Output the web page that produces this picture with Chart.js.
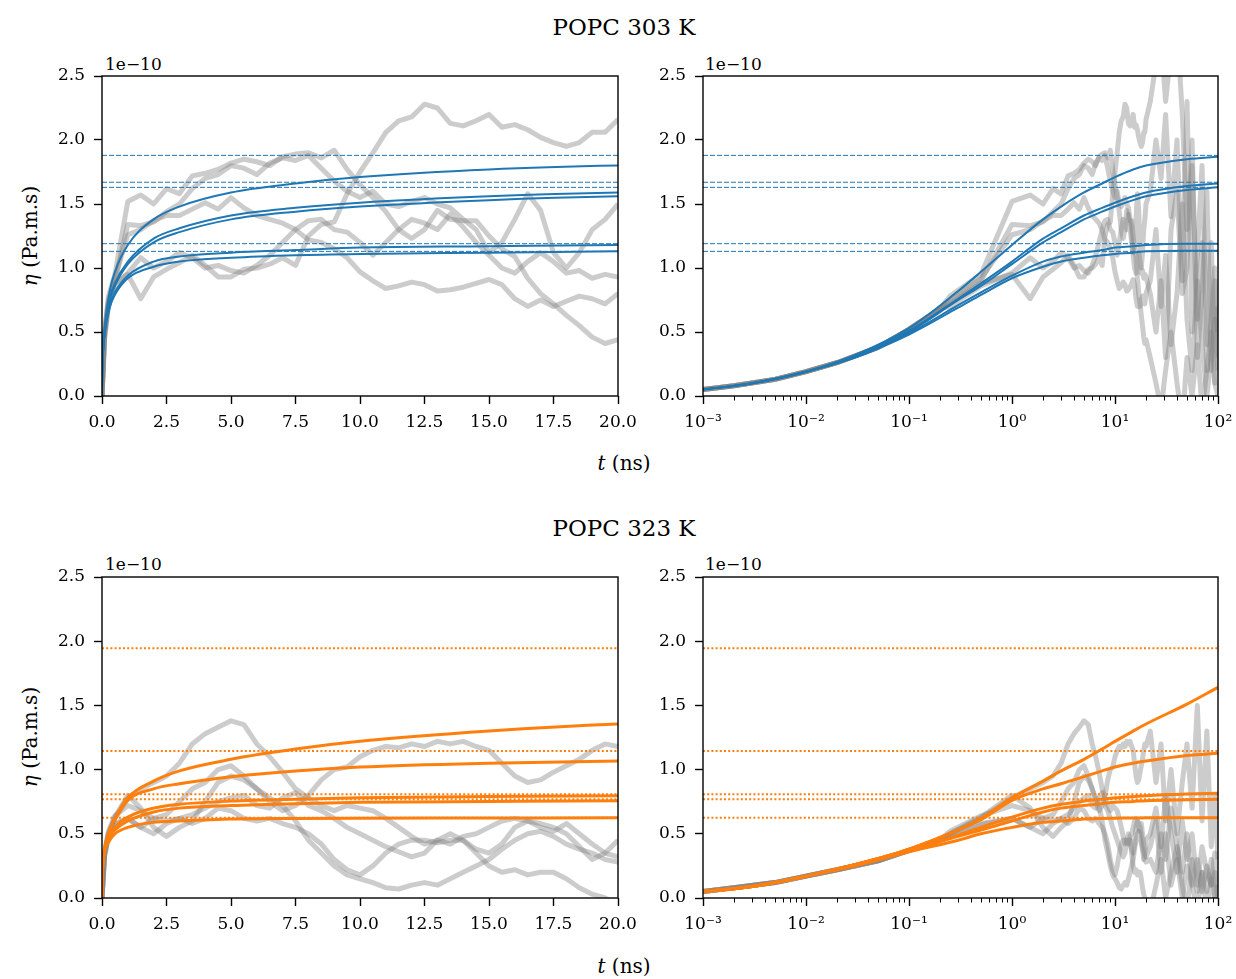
<!DOCTYPE html>
<html>
<head>
<meta charset="utf-8">
<script src="https://cdn.jsdelivr.net/npm/chart.js"></script>
<style>
  body { margin: 0; background: #fff; width: 1236px; height: 979px; position: relative; overflow: hidden; font-family: "DejaVu Serif", serif; color: #000; }
  canvas { position: absolute; }
  .lbl { position: absolute; transform: translate(-50%, -50%); white-space: nowrap; }
  .title { font-size: 23px; }
  .axis { font-size: 20px; }
  .ylab { transform: translate(-50%, -50%) rotate(-90deg); }
  .off { position: absolute; font-size: 17px; transform: translateY(-50%); }
</style>
</head>
<body>
<div class="lbl title" style="left:624px; top:27px;">POPC 303 K</div>
<div class="lbl title" style="left:624px; top:528px;">POPC 323 K</div>

<div class="off" style="left:105px; top:64px;">1e−10</div>
<div class="off" style="left:705px; top:64px;">1e−10</div>
<div class="off" style="left:105px; top:564px;">1e−10</div>
<div class="off" style="left:705px; top:564px;">1e−10</div>

<div class="lbl axis" style="left:624px; top:463px;"><i>t</i> (ns)</div>
<div class="lbl axis" style="left:624px; top:966px;"><i>t</i> (ns)</div>
<div class="lbl axis ylab" style="left:30px; top:236px;"><i>η</i> (Pa.m.s)</div>
<div class="lbl axis ylab" style="left:30px; top:737px;"><i>η</i> (Pa.m.s)</div>

<canvas id="c303lin" width="640" height="400" style="left:0px; top:56px;"></canvas>
<canvas id="c303log" width="596" height="400" style="left:640px; top:56px;"></canvas>
<canvas id="c323lin" width="640" height="400" style="left:0px; top:557px;"></canvas>
<canvas id="c323log" width="596" height="400" style="left:640px; top:557px;"></canvas>

<script>
// -------------------------
// AXES
// -------------------------
const linTicks = [0, 2.5, 5, 7.5, 10, 12.5, 15, 17.5, 20];
const linTickLabels = ["0.0", "2.5", "5.0", "7.5", "10.0", "12.5", "15.0", "17.5", "20.0"];
const logTicks = [1e-3, 1e-2, 1e-1, 1, 10, 100];
const logTickLabels = ["10⁻³", "10⁻²", "10⁻¹", "10⁰", "10¹", "10²"];
const yTicks = [0, 0.5, 1.0, 1.5, 2.0, 2.5];
const yTickLabels = ["0.0", "0.5", "1.0", "1.5", "2.0", "2.5"];

// -------------------------
// TIME GRIDS (ns)
// -------------------------
const tLin = [0, 0.1, 0.25, 0.5, 1, 1.5, 2, 2.5, 3, 3.5, 4, 4.5, 5, 5.5, 6, 6.5, 7, 7.5, 8, 8.5, 9, 9.5,
  10, 10.5, 11, 11.5, 12, 12.5, 13, 13.5, 14, 14.5, 15, 15.5, 16, 16.5, 17, 17.5, 18, 18.5, 19, 19.5, 20];
const tLogEarly = [0.001, 0.002, 0.005, 0.01, 0.02, 0.05, 0.1, 0.2];
const tLate = [22, 25, 28, 31, 35, 40, 45, 50, 56, 63, 70, 78, 86, 93, 100];
const tFit = [0, 0.001, 0.003, 0.01, 0.03, 0.1, 0.3, 0.5, 1, 2, 3, 5, 7.5, 10, 15, 20, 50, 100];

// -------------------------
// POPC 303 K  (values in 1e-10 Pa.m.s)
// -------------------------
const run303a = [0, 0.45, 0.72, 0.88, 0.95, 0.76, 0.93, 0.99, 1.04, 1.1, 1.02, 0.93, 0.93, 0.99, 1.0, 1.03, 1.08, 1.02, 1.25, 1.34, 1.36, 1.58,
  1.75, 1.9, 2.06, 2.15, 2.18, 2.28, 2.25, 2.13, 2.11, 2.15, 2.2, 2.1, 2.12, 2.08, 2.02, 1.98, 1.95, 1.98, 2.06, 2.06, 2.16];
const run303b = [0, 0.5, 0.78, 0.95, 1.52, 1.57, 1.5, 1.62, 1.58, 1.72, 1.74, 1.77, 1.82, 1.85, 1.83, 1.8, 1.87, 1.89, 1.9, 1.86, 1.92, 1.77,
  1.65, 1.55, 1.44, 1.3, 1.23, 1.3, 1.45, 1.38, 1.37, 1.37, 1.25, 1.15, 1.09, 0.92, 0.8, 0.72, 0.63, 0.55, 0.46, 0.41, 0.44];
const run303c = [0, 0.5, 0.75, 0.92, 1.26, 1.3, 1.37, 1.41, 1.41, 1.46, 1.51, 1.46, 1.55, 1.47, 1.41, 1.38, 1.35, 1.3, 1.22, 1.2, 1.15, 1.08,
  0.97, 0.9, 0.84, 0.86, 0.89, 0.87, 0.82, 0.83, 0.85, 0.88, 0.91, 0.87, 0.76, 0.7, 0.75, 0.7, 0.74, 0.78, 0.76, 0.72, 0.8];
const run303d = [0, 0.48, 0.74, 0.9, 1.34, 1.33, 1.36, 1.44, 1.5, 1.62, 1.7, 1.73, 1.8, 1.78, 1.73, 1.82, 1.86, 1.84, 1.88, 1.78, 1.68, 1.6,
  1.55, 1.6, 1.5, 1.48, 1.52, 1.55, 1.5, 1.47, 1.38, 1.3, 1.12, 1.2, 1.38, 1.58, 1.45, 1.12, 1.0, 1.12, 1.3, 1.38, 1.5];
const run303e = [0, 0.45, 0.7, 0.86, 0.96, 1.08, 1.0, 1.05, 1.12, 1.08, 1.0, 1.02, 0.98, 0.96, 1.02, 1.1, 1.2, 1.3, 1.37, 1.38, 1.3, 1.28,
  1.2, 1.1, 1.2, 1.3, 1.38, 1.35, 1.3, 1.42, 1.32, 1.2, 1.1, 1.0, 0.96, 1.05, 1.12, 1.05, 0.96, 0.98, 0.92, 0.95, 0.93];

const early303 = [0.05, 0.08, 0.13, 0.19, 0.26, 0.38, 0.52, 0.68];
const late303a = [2.3, 2.6, 2.8, 2.3, 2.7, 2.9, 2.2, 1.3, 1.8, 0.6, 1.2, 0.2, 0.6, 1.0, 0.3];
const late303b = [0.3, 0.1, -0.1, 0.2, 0.5, 0.1, -0.2, 0.3, 0.0, 0.4, -0.1, 0.2, 0.5, 0.1, 0.0];
const late303c = [0.9, 1.3, 0.7, 1.1, 0.4, 0.8, 1.5, 0.6, 0.2, 0.9, 0.4, 0.0, 0.3, 0.6, 0.2];
const late303d = [1.6, 2.0, 1.7, 2.2, 1.4, 2.0, 0.9, 2.3, 0.5, 1.1, 1.8, 0.4, 1.2, 0.1, 0.7];
const late303e = [0.8, 0.5, 0.9, 0.3, 1.3, 1.6, 0.8, 1.0, 2.0, 0.3, 0.8, 1.6, 0.2, 0.9, 0.5];

const fit303a = [0, 0.05, 0.10, 0.19, 0.32, 0.53, 0.82, 0.97, 1.18, 1.38, 1.48, 1.59, 1.66, 1.71, 1.77, 1.80, 1.85, 1.87];
const fit303b = [0, 0.05, 0.10, 0.19, 0.31, 0.51, 0.76, 0.88, 1.05, 1.23, 1.31, 1.41, 1.47, 1.51, 1.56, 1.59, 1.64, 1.66];
const fit303c = [0, 0.05, 0.10, 0.19, 0.31, 0.50, 0.75, 0.86, 1.03, 1.20, 1.28, 1.38, 1.44, 1.48, 1.53, 1.56, 1.61, 1.63];
const fit303d = [0, 0.05, 0.10, 0.19, 0.31, 0.49, 0.71, 0.81, 0.94, 1.05, 1.09, 1.12, 1.14, 1.16, 1.17, 1.18, 1.19, 1.19];
const fit303e = [0, 0.05, 0.10, 0.19, 0.30, 0.48, 0.69, 0.79, 0.92, 1.01, 1.05, 1.08, 1.10, 1.11, 1.12, 1.13, 1.135, 1.135];
const level303 = [1.88, 1.67, 1.63, 1.19, 1.13];

// -------------------------
// POPC 323 K
// -------------------------
const run323a = [0, 0.35, 0.5, 0.62, 0.78, 0.85, 0.9, 0.95, 1.05, 1.2, 1.28, 1.33, 1.38, 1.35, 1.2, 1.1, 0.98, 0.85, 0.78, 0.72, 0.68, 0.72,
  0.7, 0.68, 0.62, 0.55, 0.48, 0.42, 0.45, 0.42, 0.48, 0.5, 0.55, 0.6, 0.62, 0.6, 0.55, 0.52, 0.58, 0.5, 0.42, 0.35, 0.32];
const run323b = [0, 0.33, 0.48, 0.58, 0.62, 0.55, 0.62, 0.65, 0.75, 0.85, 0.9, 1.0, 1.03, 0.95, 0.85, 0.75, 0.68, 0.72, 0.8, 0.92, 1.0, 1.02,
  1.1, 1.15, 1.18, 1.17, 1.2, 1.18, 1.22, 1.2, 1.22, 1.18, 1.15, 1.05, 0.95, 0.9, 0.92, 0.98, 1.03, 1.08, 1.15, 1.2, 1.18];
const run323c = [0, 0.36, 0.52, 0.64, 0.72, 0.68, 0.62, 0.6, 0.62, 0.65, 0.7, 0.75, 0.78, 0.8, 0.72, 0.7, 0.78, 0.82, 0.72, 0.68, 0.62, 0.55,
  0.5, 0.45, 0.4, 0.36, 0.32, 0.35, 0.45, 0.5, 0.45, 0.35, 0.25, 0.2, 0.22, 0.18, 0.2, 0.2, 0.15, 0.08, 0.03, 0.0, -0.05];
const run323d = [0, 0.32, 0.47, 0.57, 0.62, 0.55, 0.5, 0.58, 0.62, 0.58, 0.62, 0.7, 0.68, 0.62, 0.6, 0.62, 0.58, 0.55, 0.5, 0.42, 0.3, 0.22,
  0.18, 0.25, 0.35, 0.42, 0.45, 0.45, 0.43, 0.45, 0.45, 0.38, 0.35, 0.42, 0.55, 0.6, 0.58, 0.55, 0.5, 0.4, 0.3, 0.35, 0.45];
const run323e = [0, 0.35, 0.5, 0.63, 0.8, 0.7, 0.55, 0.48, 0.55, 0.6, 0.75, 0.9, 0.95, 0.92, 0.85, 0.78, 0.72, 0.6, 0.45, 0.35, 0.25, 0.18,
  0.15, 0.12, 0.08, 0.07, 0.1, 0.12, 0.1, 0.15, 0.2, 0.25, 0.3, 0.38, 0.45, 0.5, 0.52, 0.48, 0.42, 0.38, 0.35, 0.3, 0.28];

const early323 = [0.05, 0.08, 0.12, 0.17, 0.22, 0.29, 0.37, 0.45];
const late323a = [0.4, 0.6, 0.2, 0.5, 0.1, 0.3, 0.0, 0.25, 0.1, -0.1, 0.2, 0.05, 0.3, 0.0, 0.1];
const late323b = [1.3, 0.9, 1.2, 0.6, 1.0, 0.5, 0.9, 1.2, 0.7, 1.5, 0.6, 1.3, 0.4, 0.8, 0.3];
const late323c = [-0.1, 0.1, 0.3, 0.0, 0.2, 0.4, 0.1, -0.1, 0.3, 0.05, 0.2, -0.1, 0.15, 0.0, 0.1];
const late323d = [0.5, 0.7, 0.4, 0.8, 0.5, 0.2, 0.6, 0.3, 0.5, 0.1, 0.4, 0.2, 0.1, 0.35, 0.1];
const late323e = [0.3, 0.2, 0.5, 0.3, 0.7, 0.4, 0.2, 0.5, 0.1, 0.3, 0.05, 0.25, 0.1, 0.2, 0.0];

const fit323a = [0, 0.05, 0.09, 0.17, 0.26, 0.38, 0.53, 0.62, 0.78, 0.91, 0.99, 1.08, 1.16, 1.22, 1.30, 1.355, 1.51, 1.64];
const fit323b = [0, 0.05, 0.09, 0.17, 0.26, 0.38, 0.53, 0.61, 0.76, 0.85, 0.89, 0.945, 0.99, 1.02, 1.05, 1.067, 1.11, 1.127];
const fit323c = [0, 0.05, 0.09, 0.17, 0.26, 0.37, 0.49, 0.55, 0.63, 0.70, 0.73, 0.755, 0.77, 0.78, 0.79, 0.797, 0.81, 0.815];
const fit323d = [0, 0.05, 0.09, 0.17, 0.26, 0.37, 0.48, 0.53, 0.60, 0.67, 0.70, 0.72, 0.735, 0.745, 0.752, 0.758, 0.765, 0.769];
const fit323e = [0, 0.05, 0.09, 0.17, 0.25, 0.36, 0.45, 0.50, 0.55, 0.59, 0.60, 0.615, 0.62, 0.622, 0.623, 0.625, 0.625, 0.625];
const level323 = [1.945, 1.145, 0.808, 0.769, 0.625];

const GREY = "rgba(128,128,128,0.4)";
const BLUE = "#1f77b4";
const ORANGE = "#ff7f0e";

// -------------------------
// HELPERS
// -------------------------
function pts(xs, ys) {
  return ys.map((y, i) => ({ x: xs[i], y: y }));
}

// log panels: early part, then the same run from 0.25 ns on, then the long tail
function logRun(early, run, late) {
  return pts(tLogEarly, early)
    .concat(pts(tLin.slice(2), run.slice(2)))
    .concat(pts(tLate, late));
}

function fitPts(fit, isLog) {
  const p = pts(tFit, fit);
  return isLog ? p.slice(1) : p;
}

// box round the plot + minor log ticks
const frame = {
  id: "frame",
  afterDraw(chart) {
    const { ctx, chartArea: a } = chart;
    ctx.save();
    ctx.strokeStyle = "#000";
    ctx.lineWidth = 1.4;
    ctx.strokeRect(a.left, a.top, a.right - a.left, a.bottom - a.top);
    const xs = chart.scales.x;
    if (xs.type === "logarithmic") {
      ctx.lineWidth = 1;
      ctx.beginPath();
      for (let d = -3; d < 2; d++) {
        for (let k = 2; k < 10; k++) {
          const px = Math.round(xs.getPixelForValue(k * Math.pow(10, d))) + 0.5;
          ctx.moveTo(px, a.bottom);
          ctx.lineTo(px, a.bottom + 4.5);
        }
      }
      ctx.stroke();
    }
    ctx.restore();
  }
};

Chart.defaults.font.family = "'DejaVu Serif', serif";
Chart.defaults.font.size = 17;
Chart.defaults.color = "#000";

function buildPanel(id, o) {
  const isLog = o.log;
  const x0 = isLog ? 1e-3 : 0;
  const x1 = isLog ? 100 : 20;
  const datasets = [];

  o.runs.forEach(r => datasets.push({
    data: r, borderColor: GREY, borderWidth: 5, pointRadius: 0,
    tension: 0, borderJoinStyle: "round", order: 3, clip: 0
  }));

  o.fits.forEach(f => datasets.push({
    data: fitPts(f, isLog), borderColor: o.color, borderWidth: o.fitWidth, pointRadius: 0,
    cubicInterpolationMode: "monotone", order: 2, clip: 0
  }));

  o.levels.forEach(v => datasets.push({
    data: [{ x: x0, y: v }, { x: x1, y: v }], borderColor: o.color, borderWidth: o.levelWidth,
    borderDash: o.dash, pointRadius: 0, order: 1, clip: 0
  }));

  const gridOpts = {
    drawOnChartArea: false, drawTicks: true, tickLength: 8,
    tickColor: "#000", tickWidth: 1.4
  };

  new Chart(document.getElementById(id), {
    type: "line",
    data: { datasets },
    plugins: [frame],
    options: {
      responsive: false,
      animation: false,
      devicePixelRatio: 1,
      layout: { padding: { top: 20, right: o.padRight, left: 0, bottom: 0 } },
      plugins: { legend: { display: false }, tooltip: { enabled: false } },
      scales: {
        x: {
          type: isLog ? "logarithmic" : "linear",
          min: x0,
          max: x1,
          afterBuildTicks: s => { s.ticks = (isLog ? logTicks : linTicks).map(v => ({ value: v })); },
          afterFit: s => { s.height = o.xHeight; s.paddingLeft = 0; s.paddingRight = 0; },
          ticks: {
            autoSkip: false, maxRotation: 0, minRotation: 0, padding: 8,
            callback: (v, i) => isLog ? logTickLabels[i] : linTickLabels[i]
          },
          grid: gridOpts,
          border: { display: false }
        },
        y: {
          min: 0,
          max: 2.5,
          afterBuildTicks: s => { s.ticks = yTicks.map(v => ({ value: v })); },
          afterFit: s => { s.width = o.yWidth; s.paddingTop = 0; s.paddingBottom = 0; },
          ticks: { padding: 9, callback: (v, i) => yTickLabels[i] },
          grid: gridOpts,
          border: { display: false }
        }
      }
    }
  });
}

// -------------------------
// BUILD
// -------------------------
const runs303 = [run303a, run303b, run303c, run303d, run303e];
const late303 = [late303a, late303b, late303c, late303d, late303e];
const fits303 = [fit303a, fit303b, fit303c, fit303d, fit303e];
const runs323 = [run323a, run323b, run323c, run323d, run323e];
const late323 = [late323a, late323b, late323c, late323d, late323e];
const fits323 = [fit323a, fit323b, fit323c, fit323d, fit323e];

const style303 = { color: BLUE, fitWidth: 2, levelWidth: 1, dash: [5, 2], levels: level303, fits: fits303 };
const style323 = { color: ORANGE, fitWidth: 3, levelWidth: 2.2, dash: [2, 2.2], levels: level323, fits: fits323 };

buildPanel("c303lin", Object.assign({}, style303, {
  log: false, padRight: 22, xHeight: 60, yWidth: 102,
  runs: runs303.map(r => pts(tLin, r))
}));
buildPanel("c303log", Object.assign({}, style303, {
  log: true, padRight: 18, xHeight: 60, yWidth: 63,
  runs: runs303.map((r, i) => logRun(early303, r, late303[i]))
}));
buildPanel("c323lin", Object.assign({}, style323, {
  log: false, padRight: 22, xHeight: 59, yWidth: 102,
  runs: runs323.map(r => pts(tLin, r))
}));
buildPanel("c323log", Object.assign({}, style323, {
  log: true, padRight: 18, xHeight: 59, yWidth: 63,
  runs: runs323.map((r, i) => logRun(early323, r, late323[i]))
}));
</script>
</body>
</html>
